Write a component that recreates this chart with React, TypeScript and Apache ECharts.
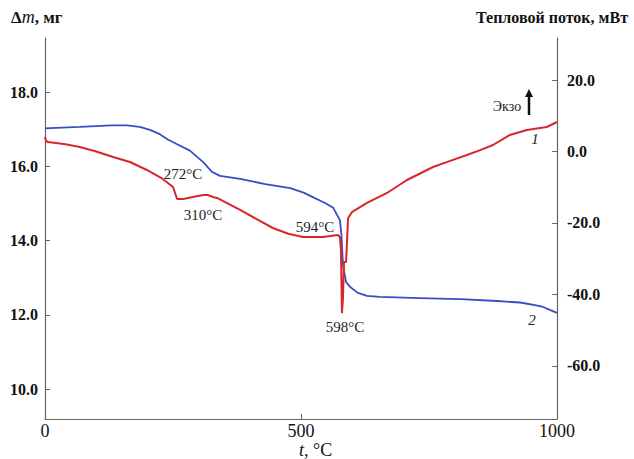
import React, { useEffect, useRef } from "react";
import * as echarts from "echarts";

// Temperature, °C / mass, mg (curve 2, left axis)
const tgTemp = [0, 68, 130, 160, 185, 205, 222, 240, 260, 283, 309, 326, 342, 381, 430, 479, 505, 523, 547, 563, 576, 579, 582, 588, 596, 611, 629, 654, 732, 811, 883, 928, 957, 973, 986, 1000];
const tgMass = [17.02, 17.06, 17.1, 17.1, 17.06, 16.98, 16.88, 16.72, 16.58, 16.42, 16.11, 15.85, 15.74, 15.66, 15.52, 15.41, 15.29, 15.17, 15.01, 14.88, 14.55, 14.15, 13.34, 12.88, 12.75, 12.59, 12.51, 12.48, 12.45, 12.42, 12.37, 12.33, 12.26, 12.21, 12.13, 12.05];

// Temperature, °C / heat flow, mW (curve 1, right axis)
const dscTemp = [0, 2, 6, 40, 68, 100, 133, 166, 199, 230, 250, 254, 258, 270, 289, 309, 318, 328, 336, 381, 445, 475, 504, 543, 572, 576, 578, 580, 582, 584, 588, 590, 592, 600, 629, 668, 707, 758, 790, 824, 850, 875, 908, 941, 980, 1000];
const dscFlow = [4.06, 2.94, 2.66, 2.0, 1.26, 0.0, -1.54, -2.94, -5.17, -7.69, -9.93, -11.6, -13.29, -13.29, -12.73, -12.17, -12.17, -12.73, -13.0, -16.36, -21.4, -23.0, -23.9, -23.9, -23.36, -23.9, -27.55, -45.2, -41.0, -30.9, -30.9, -24.76, -18.6, -16.9, -14.4, -11.6, -7.97, -4.34, -2.7, -0.98, 0.4, 1.82, 4.62, 6.01, 6.85, 8.25];

const leftTicks = [10, 12, 14, 16, 18];
const rightTicks = [-60, -40, -20, 0, 20];
const xTicks = [0, 500, 1000];

const FONT = "Liberation Serif";

export default function App() {
  const ref = useRef<HTMLDivElement>(null);
  useEffect(() => {
    if (!ref.current) return;
    const chart = echarts.init(ref.current, null, { renderer: "svg" });
    const axisLine = { show: true, onZero: false, lineStyle: { color: "#666", width: 1.2 } };
    chart.setOption({
      animation: false,
      backgroundColor: "#fff",
      grid: { left: 45, right: 77, top: 38, bottom: 40, containLabel: false },
      xAxis: {
        type: "value",
        min: 0,
        max: 1000,
        interval: 500,
        axisLine,
        axisTick: { inside: true, length: 5, lineStyle: { color: "#666" }, customValues: [500] },
        axisLabel: {
          customValues: xTicks,
          formatter: (v: number) => String(v),
          fontFamily: FONT,
          fontSize: 18,
          color: "#111",
          margin: 3,
        },
        splitLine: { show: false },
      },
      yAxis: [
        {
          type: "value",
          position: "left",
          min: 9.192,
          max: 19.455,
          axisLine,
          axisTick: { show: true, inside: true, length: 5, lineStyle: { color: "#666" }, customValues: leftTicks },
          axisLabel: {
            customValues: leftTicks,
            formatter: (v: number) => v.toFixed(1),
            fontFamily: FONT,
            fontSize: 16,
            fontWeight: "bold",
            color: "#111",
            margin: 7,
          },
          splitLine: { show: false },
        },
        {
          type: "value",
          position: "right",
          min: -74.83,
          max: 31.75,
          axisLine,
          axisTick: { show: true, inside: true, length: 5, lineStyle: { color: "#666" }, customValues: rightTicks },
          axisLabel: {
            customValues: rightTicks,
            formatter: (v: number) => v.toFixed(1),
            fontFamily: FONT,
            fontSize: 16,
            fontWeight: "bold",
            color: "#111",
            margin: 10,
          },
          splitLine: { show: false },
        },
      ],
      series: [
        {
          name: "2",
          type: "line",
          yAxisIndex: 0,
          data: tgTemp.map((t, i) => [t, tgMass[i]]),
          showSymbol: false,
          lineStyle: { color: "#3b4cc4", width: 1.8 },
        },
        {
          name: "1",
          type: "line",
          yAxisIndex: 1,
          data: dscTemp.map((t, i) => [t, dscFlow[i]]),
          showSymbol: false,
          lineStyle: { color: "#d8262c", width: 2 },
        },
      ],
      graphic: [
        {
          type: "text",
          left: 11,
          top: 8,
          style: {
            rich: {
              it: { fontFamily: FONT, fontSize: 18, fontStyle: "italic", fill: "#111" },
              n: { fontFamily: FONT, fontSize: 17, fontWeight: "bold", fill: "#111" },
            },
            text: "{n|Δ}{it|m}{n|, мг}",
          },
        },
        {
          type: "text",
          right: 6,
          top: 9,
          style: { text: "Тепловой поток, мВт", fontFamily: FONT, fontSize: 16, fontWeight: "bold", fill: "#111" },
        },
        {
          type: "text",
          left: 299,
          top: 441,
          style: {
            rich: {
              it: { fontFamily: FONT, fontSize: 18, fontStyle: "italic", fill: "#111" },
              n: { fontFamily: FONT, fontSize: 18, fill: "#111" },
            },
            text: "{it|t}{n|, °C}",
          },
        },
        { type: "text", x: 183, y: 174, style: { text: "272°C", align: "center", verticalAlign: "middle", fontFamily: FONT, fontSize: 15, fill: "#222" } },
        { type: "text", x: 203, y: 215, style: { text: "310°C", align: "center", verticalAlign: "middle", fontFamily: FONT, fontSize: 15, fill: "#222" } },
        { type: "text", x: 315, y: 227, style: { text: "594°C", align: "center", verticalAlign: "middle", fontFamily: FONT, fontSize: 15, fill: "#222" } },
        { type: "text", x: 345, y: 327, style: { text: "598°C", align: "center", verticalAlign: "middle", fontFamily: FONT, fontSize: 15, fill: "#222" } },
        { type: "text", x: 507, y: 106, style: { text: "Экзо", align: "center", verticalAlign: "middle", fontFamily: FONT, fontSize: 14, fill: "#222" } },
        { type: "line", shape: { x1: 529, y1: 115, x2: 529, y2: 96 }, style: { stroke: "#111", lineWidth: 2.5 } },
        { type: "polygon", shape: { points: [[525, 97], [533, 97], [529, 89]] }, style: { fill: "#111" } },
        { type: "text", x: 535, y: 139, style: { text: "1", align: "center", verticalAlign: "middle", fontFamily: FONT, fontSize: 15, fontStyle: "italic", fill: "#222" } },
        { type: "text", x: 532, y: 320, style: { text: "2", align: "center", verticalAlign: "middle", fontFamily: FONT, fontSize: 15, fontStyle: "italic", fill: "#222" } },
      ],
    });
    return () => chart.dispose();
  }, []);
  return <div ref={ref} style={{ width: 634, height: 459, position: "absolute", left: 0, top: 0 }} />;
}
